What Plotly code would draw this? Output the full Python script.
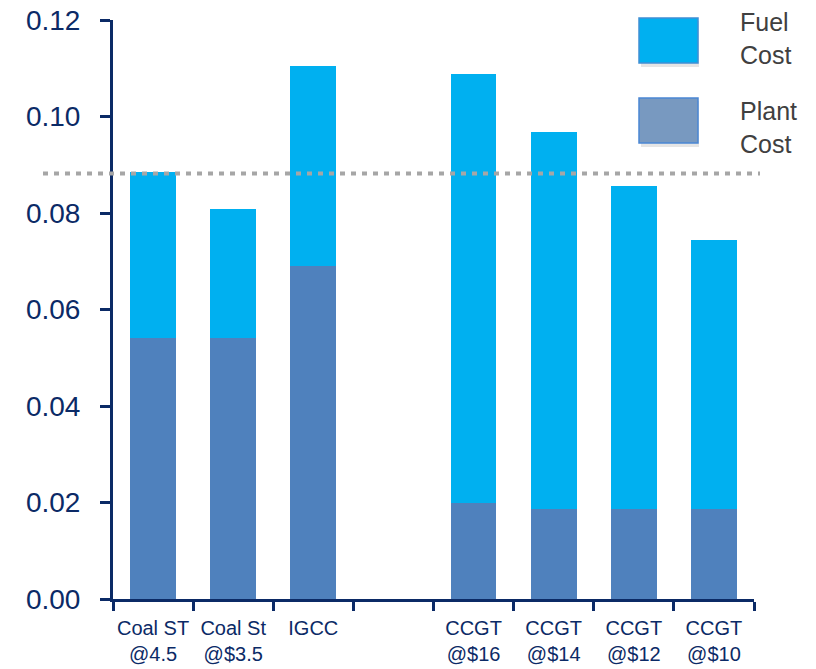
import plotly.graph_objects as go

categories = ["Coal ST<br>@4.5", "Coal St<br>@$3.5", "IGCC", " ",
              "CCGT<br>@$16", "CCGT<br>@$14", "CCGT<br>@$12", "CCGT<br>@$10"]
plant_cost = [0.0541, 0.0541, 0.0690, None, 0.0198, 0.0187, 0.0187, 0.0187]
fuel_cost = [0.0345, 0.0268, 0.0414, None, 0.0890, 0.0780, 0.0668, 0.0558]
reference_line = 0.0882
y_ticks = [0.00, 0.02, 0.04, 0.06, 0.08, 0.10, 0.12]
legend_labels = ["Fuel<br>Cost", "Plant<br>Cost"]

NAVY = "#0b2a66"
FUEL = "#00B0F0"
PLANT = "#4F81BD"

L, R, T, B = 113, 62, 20, 70
W, H = 816 - L - R, 669 - T - B

fig = go.Figure()
fig.add_trace(go.Bar(x=categories, y=plant_cost, name="Plant Cost",
                     marker=dict(color=PLANT, line=dict(width=0)), showlegend=False))
fig.add_trace(go.Bar(x=categories, y=fuel_cost, name="Fuel Cost",
                     marker=dict(color=FUEL, line=dict(width=0)), showlegend=False))

def px(x):
    return (x - L) / W
def py(y):
    return 1 - (y - T) / H

fig.add_shape(type="line", xref="paper", yref="y", x0=px(43), x1=px(760),
              y0=reference_line, y1=reference_line,
              line=dict(color="#a6a6a6", width=4, dash="5px,6px"))

# custom legend
boxes = [(18, 63, FUEL, "#3f8fd4", 38), (98, 143, "#7899C0", "#4a86d4", 127)]
for (t, b, fill, border, tc), lab in zip(boxes, legend_labels):
    fig.add_shape(type="rect", xref="paper", yref="paper",
                  x0=px(641), x1=px(699), y0=py(b + 4), y1=py(t + 3),
                  line=dict(width=0), fillcolor="rgba(0,0,0,0.10)", layer="above")
    fig.add_shape(type="rect", xref="paper", yref="paper",
                  x0=px(639), x1=px(698), y0=py(b), y1=py(t),
                  line=dict(color=border, width=1.5), fillcolor=fill, layer="above")
    fig.add_annotation(xref="paper", yref="paper", x=px(738), y=py(tc),
                       xanchor="left", yanchor="middle", align="left",
                       text=lab, showarrow=False,
                       font=dict(family="Liberation Sans, Arial", size=25, color="#404040"))

fig.update_layout(
    barmode="stack",
    bargap=0.43,
    width=816, height=669,
    margin=dict(l=L, r=R, t=T, b=B),
    plot_bgcolor="white", paper_bgcolor="white",
    xaxis=dict(type="category", tickson="boundaries", ticks="outside", ticklen=9,
               tickwidth=2.5, tickcolor=NAVY, showline=True, linecolor=NAVY,
               linewidth=3, showgrid=False, ticklabelstandoff=9, tickangle=0,
               automargin=False,
               tickfont=dict(family="Liberation Sans Narrow, Arial Narrow, Liberation Sans", size=20, color=NAVY)),
    yaxis=dict(range=[0, 0.12], tickvals=y_ticks, tickformat=".2f",
               ticks="outside", ticklen=10, tickwidth=2.5, tickcolor=NAVY,
               showline=True, linecolor=NAVY, linewidth=3, showgrid=False, zeroline=False,
               ticklabelstandoff=14, automargin=False,
               tickfont=dict(family="Liberation Sans, Arial", size=28, color=NAVY)),
)

fig.write_html("out.html")
